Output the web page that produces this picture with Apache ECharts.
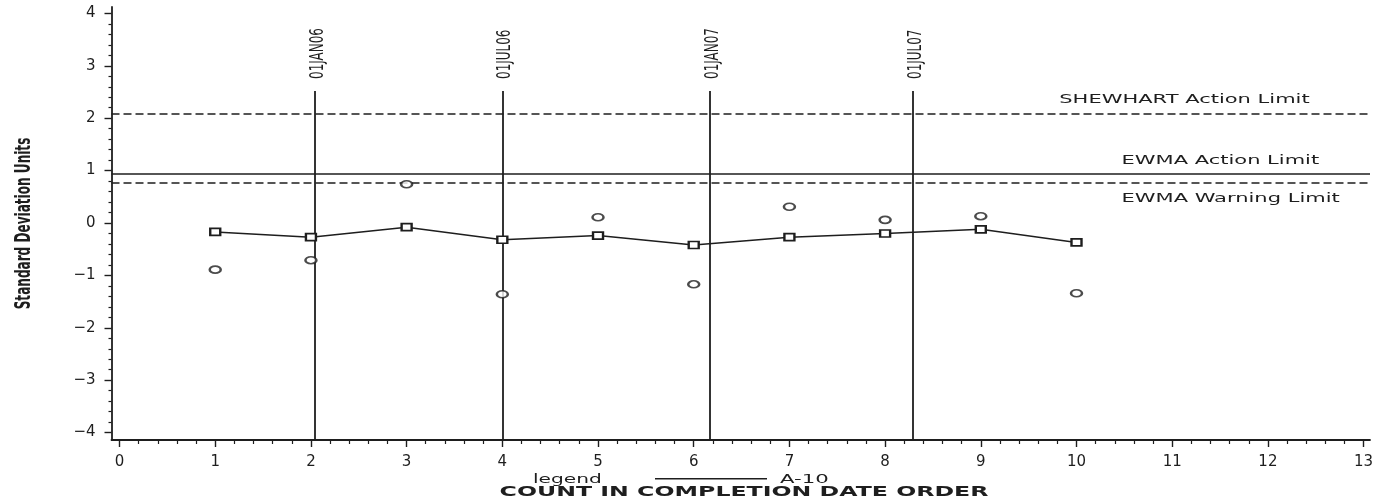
<!DOCTYPE html>
<html>
<head>
<meta charset="utf-8">
<script src="https://cdn.jsdelivr.net/npm/echarts@6/dist/echarts.min.js"></script>
<style>
  html, body { margin: 0; padding: 0; background: #fff; }
  #chart { width: 1387px; height: 501px; }
</style>
</head>
<body>
<div id="chart"></div>
<script>
// ---- data ----
const counts = [1, 2, 3, 4, 5, 6, 7, 8, 9, 10];
const ewmaValues = [-0.17, -0.27, -0.08, -0.32, -0.24, -0.42, -0.27, -0.20, -0.12, -0.37];
const observedValues = [-0.89, -0.71, 0.74, -1.36, 0.11, -1.17, 0.31, 0.06, 0.13, -1.34];
const dateLabels = ['01JAN06', '01JUL06', '01JAN07', '01JUL07'];
const datePositions = [2.04, 4.00, 6.17, 8.29];
const dateLineTop = 2.52;
const limitNames = ['SHEWHART Action Limit', 'EWMA Action Limit', 'EWMA Warning Limit'];
const limitValues = [2.09, 0.94, 0.77];
const limitDashed = [true, false, true];
const seriesName = 'A-10';
const yAxisTitle = 'Standard Deviation Units';
const xAxisTitle = 'COUNT IN COMPLETION DATE ORDER';
const legendWord = 'legend';

// ---- axis extents ----
const X_MIN = -0.084, X_MAX = 13.067;
const Y_MIN = -4.141, Y_MAX = 4.122;

const INK = '#1e1e1e';
const chart = echarts.init(document.getElementById('chart'), null, { renderer: 'canvas' });

const option = {
  animation: false,
  backgroundColor: '#fff',
  grid: [
    { left: 111.5, right: 17, top: 7, bottom: 61 },
    { left: 119.5, right: 23.4, top: 13.4, bottom: 68.4 }
  ],
  xAxis: [
    {
      gridIndex: 0, type: 'value', min: X_MIN, max: X_MAX,
      axisLine: { show: true, onZero: false, lineStyle: { color: INK, width: 1.8 } },
      axisTick: { show: false }, axisLabel: { show: false }, splitLine: { show: false }
    },
    {
      gridIndex: 1, type: 'value', min: 0, max: 13, interval: 1, offset: 7.4,
      axisLine: { show: false, onZero: false },
      axisTick: { show: true, inside: false, length: 7, lineStyle: { color: INK, width: 1.4 } },
      minorTick: { show: true, splitNumber: 5, length: 4, lineStyle: { color: INK, width: 1.2 } },
      axisLabel: { show: true, margin: 15, color: INK, fontSize: 15, fontFamily: 'DejaVu Sans' },
      splitLine: { show: false }
    }
  ],
  yAxis: [
    {
      gridIndex: 0, type: 'value', min: Y_MIN, max: Y_MAX,
      axisLine: { show: true, onZero: false, lineStyle: { color: INK, width: 1.8 } },
      axisTick: { show: false }, axisLabel: { show: false }, splitLine: { show: false }
    },
    {
      gridIndex: 1, type: 'value', min: -4, max: 4, interval: 1, offset: 8,
      axisLine: { show: false, onZero: false },
      axisTick: { show: true, inside: false, length: 7, lineStyle: { color: INK, width: 1.4 } },
      minorTick: { show: true, splitNumber: 5, length: 3, lineStyle: { color: INK, width: 1.2 } },
      axisLabel: {
        show: true, margin: 16, color: INK, fontSize: 15, fontFamily: 'DejaVu Sans',
        formatter: v => (v < 0 ? '\u2212' + Math.abs(v) : String(v))
      },
      splitLine: { show: false }
    }
  ],
  series: [
    {
      name: 'limits', type: 'line', xAxisIndex: 0, yAxisIndex: 0, data: [],
      markLine: {
        silent: true, symbol: 'none', animation: false, label: { show: false },
        data: limitValues.map((v, i) => ({
          yAxis: v,
          lineStyle: { color: INK, width: 1.5, type: limitDashed[i] ? [8, 4] : 'solid' }
        }))
      }
    },
    {
      name: 'dates', type: 'line', xAxisIndex: 0, yAxisIndex: 0, data: [],
      markLine: {
        silent: true, symbol: 'none', animation: false, label: { show: false },
        lineStyle: { color: INK, width: 1.8, type: 'solid' },
        data: datePositions.map(x => [{ coord: [x, Y_MIN] }, { coord: [x, dateLineTop] }])
      }
    },
    {
      name: 'observed', type: 'scatter', xAxisIndex: 0, yAxisIndex: 0,
      symbol: 'emptyCircle', symbolSize: [11, 7],
      itemStyle: { color: INK, borderColor: INK, borderWidth: 1.5 },
      data: counts.map((c, i) => [c, observedValues[i]]), z: 5
    },
    {
      name: seriesName, type: 'line', xAxisIndex: 0, yAxisIndex: 0,
      symbol: 'emptyRect', symbolSize: [10, 7], showSymbol: true,
      lineStyle: { color: INK, width: 1.5 },
      itemStyle: { color: INK, borderColor: INK, borderWidth: 1.5 },
      data: counts.map((c, i) => [c, ewmaValues[i]]), z: 6
    }
  ]
};
chart.setOption(option);

// ---- annotations positioned through the chart's own scales ----
const textFont = 'DejaVu Sans';
const condFont = "'DejaVu Sans Condensed', 'DejaVu Sans', sans-serif";
const graphics = [];

// date labels above the vertical reference lines (rotated, reading upward)
datePositions.forEach((x, i) => {
  const p = chart.convertToPixel({ gridIndex: 0 }, [x, dateLineTop]);
  graphics.push({
    type: 'text', x: p[0] + 3, y: p[1] - 12, rotation: Math.PI / 2, scaleX: 0.70, silent: true,
    style: { text: dateLabels[i], x: 0, y: 0, fill: INK, fontSize: 19, fontFamily: condFont,
             align: 'left', verticalAlign: 'middle' }
  });
});

// limit labels
const limitLabelX = [9.82, 10.47, 10.47];
const limitLabelDy = [-14, -13, 16];
limitNames.forEach((name, i) => {
  const p = chart.convertToPixel({ gridIndex: 0 }, [limitLabelX[i], limitValues[i]]);
  graphics.push({
    type: 'text', x: p[0], y: p[1] + limitLabelDy[i], scaleX: 1.68, silent: true,
    style: { text: name, x: 0, y: 0, fill: INK, fontSize: 12.5, fontFamily: textFont,
             align: 'left', verticalAlign: 'middle' }
  });
});

// y axis title (centred on the plot's vertical middle)
const yMid = chart.convertToPixel({ gridIndex: 0 }, [0, (Y_MIN + Y_MAX) / 2]);
graphics.push({
  type: 'text', x: 24, y: yMid[1], rotation: Math.PI / 2, scaleX: 0.61, silent: true,
  style: { text: yAxisTitle, x: 0, y: 0, fill: INK, fontSize: 22, fontWeight: 'bold',
           fontFamily: condFont, align: 'center', verticalAlign: 'middle' }
});

// x axis title
graphics.push({
  type: 'text', x: 744, y: 492, scaleX: 1.63, silent: true,
  style: { text: xAxisTitle, x: 0, y: 0, fill: INK, fontSize: 14.5, fontWeight: 'bold',
           fontFamily: textFont, align: 'center', verticalAlign: 'middle' }
});
// legend
graphics.push({
  type: 'text', x: 533, y: 480, scaleX: 1.55, silent: true,
  style: { text: legendWord, x: 0, y: 0, fill: INK, fontSize: 13, fontFamily: textFont,
           align: 'left', verticalAlign: 'middle' }
});
graphics.push({
  type: 'line', silent: true,
  shape: { x1: 655, y1: 478.7, x2: 767, y2: 478.7 },
  style: { stroke: INK, lineWidth: 1.4 }
});
graphics.push({
  type: 'text', x: 780, y: 479.5, scaleX: 1.7, silent: true,
  style: { text: seriesName, x: 0, y: 0, fill: INK, fontSize: 12.5, fontFamily: textFont,
           align: 'left', verticalAlign: 'middle' }
});
chart.setOption({ graphic: graphics });
</script>
</body>
</html>
